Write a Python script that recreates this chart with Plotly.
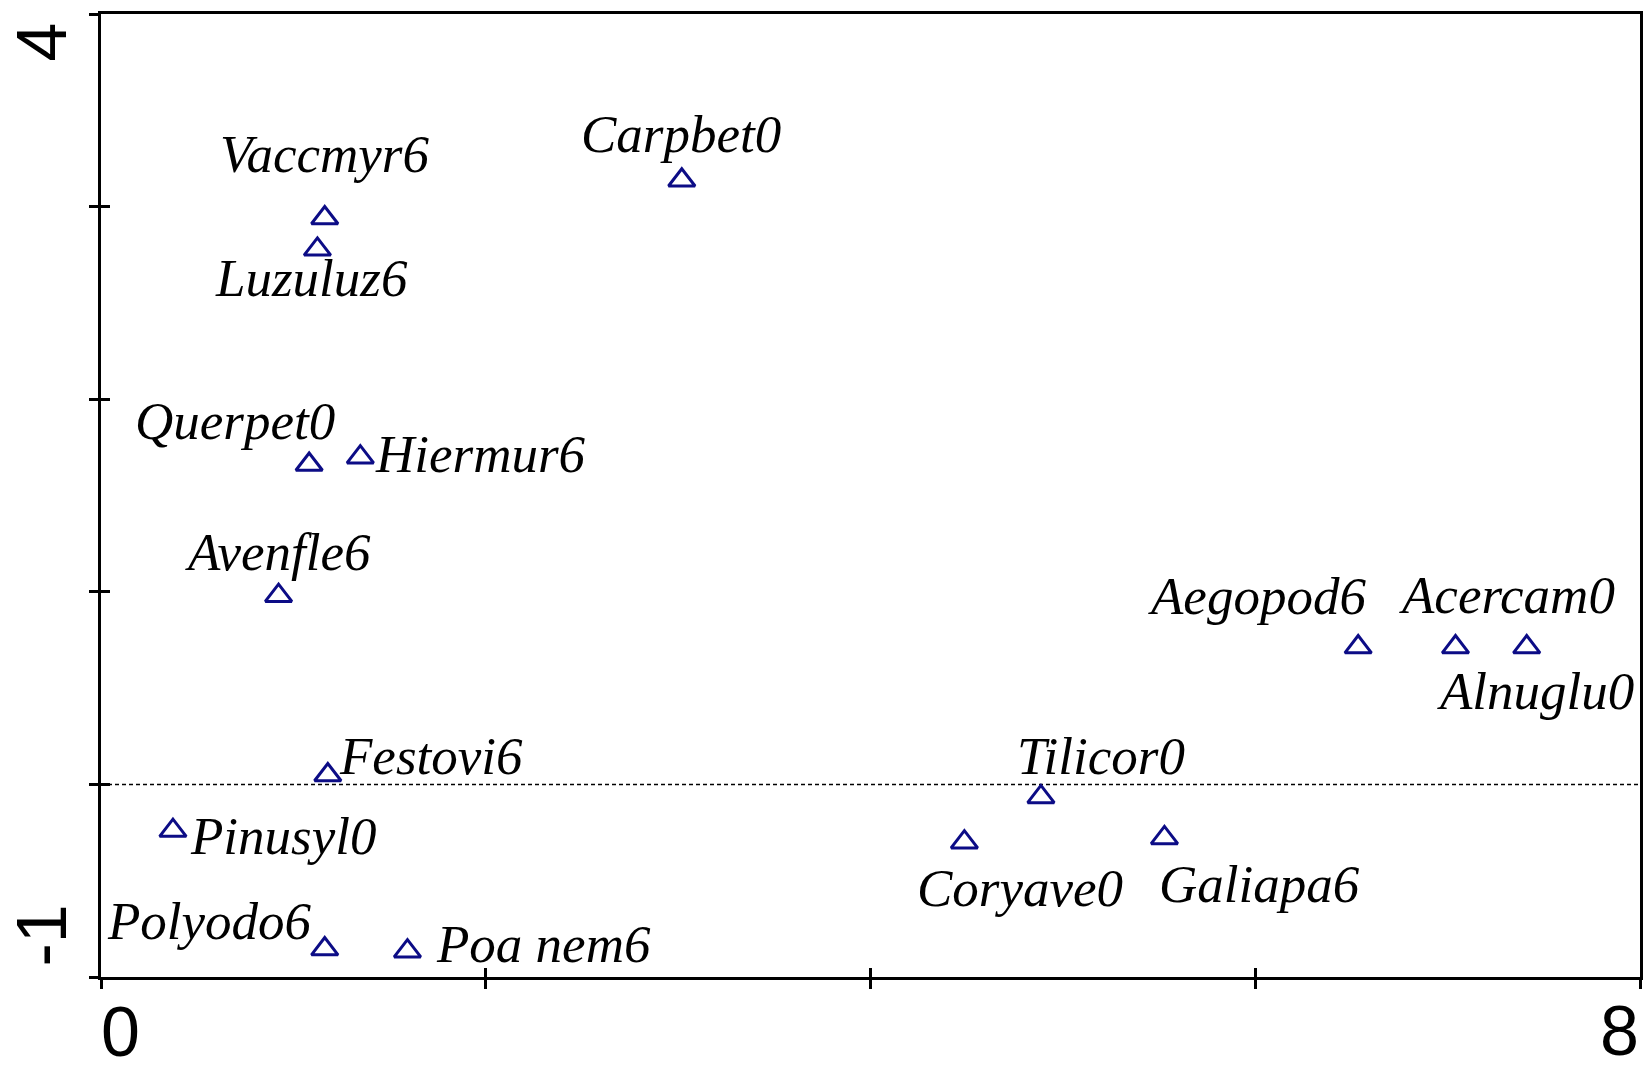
import plotly.graph_objects as go

# ---- data ----
species = ["Vaccmyr6", "Luzuluz6", "Carpbet0", "Querpet0", "Hiermur6", "Avenfle6",
           "Aegopod6", "Acercam0", "Alnuglu0", "Festovi6", "Tilicor0", "Pinusyl0",
           "Coryave0", "Galiapa6", "Polyodo6", "Poa nem6"]
axis1_scores = [1.163, 1.125, 3.019, 1.082, 1.348, 0.923,
                6.535, 7.041, 7.411, 1.179, 4.886, 0.374,
                4.488, 5.528, 1.163, 1.593]
axis2_scores = [2.941, 2.778, 3.137, 1.661, 1.699, 0.980,
                0.713, 0.713, 0.713, 0.049, -0.065, -0.240,
                -0.300, -0.278, -0.855, -0.866]

x_tick_vals = [0, 2, 4, 6, 8]
y_tick_vals = [-1, 0, 1, 2, 3, 4]
x_tick_labels = ["0", "8"]
x_tick_label_vals = [0, 8]
y_tick_labels = ["-1", "4"]
y_tick_label_vals = [-1, 4]

# ---- styling / label placement (pixel offsets from each point) ----
label_shift = {
    "Vaccmyr6": (0, 61), "Luzuluz6": (-6, -31.5), "Carpbet0": (-1, 43.6),
    "Querpet0": (-74.5, 40.4), "Hiermur6": (120, 0.5), "Avenfle6": (-1, 40.4),
    "Aegopod6": (-101.3, 47.7), "Acercam0": (51.4, 49.3), "Alnuglu0": (8.6, -46.7),
    "Festovi6": (102.7, 16.3), "Tilicor0": (60.3, 38.3), "Pinusyl0": (110.1, -7.8),
    "Coryave0": (55.6, -48.8), "Galiapa6": (94.9, -48.8), "Polyodo6": (-115.4, 24.7),
    "Poa nem6": (136.3, 4.7),
}
LABEL_DY = 2.9  # compensates for the marker centroid offset
x_label_shift = {0: (19.5, -55), 8: (-20.5, -54)}
y_label_shift = {4: (-60, -28.5), -1: (-60, 41.5)}

NAVY = "#0c0c86"
SERIF = "Liberation Serif, Times New Roman, serif"
SANS = "Liberation Sans, Arial, sans-serif"

fig = go.Figure()
fig.add_trace(go.Scatter(
    x=axis1_scores, y=axis2_scores, mode="markers", text=species, hoverinfo="text",
    marker=dict(symbol="triangle-up-open", size=23, color=NAVY,
                line=dict(width=3, color=NAVY)),
    showlegend=False,
))
# invisible copy on overlay axes that carry the inward half of the crossing ticks
fig.add_trace(go.Scatter(x=axis1_scores, y=axis2_scores, xaxis="x2", yaxis="y2",
                         mode="markers", marker=dict(opacity=0, size=1),
                         showlegend=False, hoverinfo="skip"))

annotations = []
for name, xv, yv in zip(species, axis1_scores, axis2_scores):
    dx, dy = label_shift[name]
    annotations.append(dict(
        x=xv, y=yv, xref="x", yref="y", text=name, showarrow=False,
        xanchor="center", yanchor="middle", xshift=dx, yshift=dy + LABEL_DY,
        font=dict(family=SERIF, size=53, color="black", style="italic"),
    ))
for lab, v in zip(x_tick_labels, x_tick_label_vals):
    dx, dy = x_label_shift[v]
    annotations.append(dict(
        x=v, y=0, xref="x", yref="paper", text=lab, showarrow=False,
        xanchor="center", yanchor="middle", xshift=dx, yshift=dy,
        font=dict(family=SANS, size=70, color="black"),
    ))
for lab, v in zip(y_tick_labels, y_tick_label_vals):
    dx, dy = y_label_shift[v]
    annotations.append(dict(
        x=0, y=v, xref="paper", yref="y", text=lab, showarrow=False, textangle=-90,
        xanchor="center", yanchor="middle", xshift=dx, yshift=dy,
        font=dict(family=SANS, size=70, color="black"),
    ))

fig.add_shape(type="line", xref="paper", x0=0, x1=1, yref="y", y0=0, y1=0,
              line=dict(color="black", width=1.5, dash="4px,3px"), layer="below")

common = dict(showgrid=False, zeroline=False, showticklabels=False,
              tickmode="array", ticklen=9, tickwidth=3, tickcolor="black")
fig.update_layout(
    width=1645, height=1065,
    margin=dict(l=101, r=2, t=14, b=88),
    paper_bgcolor="white", plot_bgcolor="white",
    showlegend=False,
    annotations=annotations,
    xaxis=dict(range=[0, 8], tickvals=x_tick_vals, ticks="outside",
               showline=True, linecolor="black", linewidth=3, mirror=True, **common),
    yaxis=dict(range=[-1, 4], tickvals=y_tick_vals, ticks="outside",
               showline=True, linecolor="black", linewidth=3, mirror=True, **common),
    xaxis2=dict(range=[0, 8], tickvals=x_tick_vals, ticks="inside", overlaying="x",
                anchor="y2", side="bottom", showline=False, **common),
    yaxis2=dict(range=[-1, 4], tickvals=y_tick_vals, ticks="inside", overlaying="y",
                anchor="x2", side="left", showline=False, **common),
)

fig.write_html(
    "out.html",
    config={"displayModeBar": False},
    post_script="document.body.style.margin='0';document.body.style.overflow='hidden';",
)
